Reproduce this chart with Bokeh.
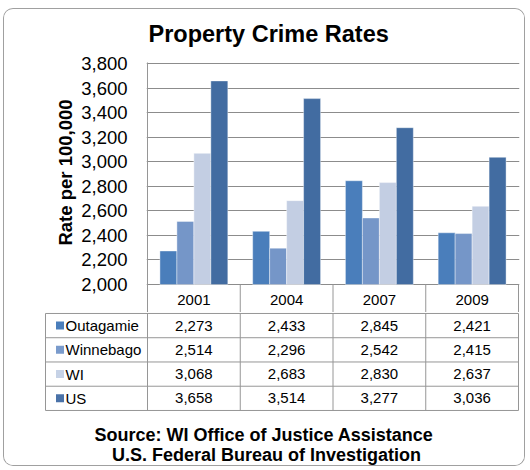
from bokeh.plotting import figure
from bokeh.models import Range1d, FixedTicker, NumeralTickFormatter, Title
from bokeh.embed import file_html
from bokeh.resources import INLINE
from bokeh.core.properties import value

# ---------------- data ----------------
years = ["2001", "2004", "2007", "2009"]
series_names = ["Outagamie", "Winnebago", "WI", "US"]
outagamie = [2273, 2433, 2845, 2421]
winnebago = [2514, 2296, 2542, 2415]
wi = [3068, 2683, 2830, 2637]
us = [3658, 3514, 3277, 3036]
y_ticks = [2000, 2200, 2400, 2600, 2800, 3000, 3200, 3400, 3600, 3800]
title_text = "Property Crime Rates"
y_label = "Rate per 100,000"
source_lines = ["Source:  WI Office of Justice Assistance",
                "U.S. Federal Bureau of Investigation"]

# ---------------- styles ----------------
FONT = "Liberation Sans"
bar_colors = ["#4a7ebb", "#7596c8", "#c3cee3", "#426ca1"]
key_colors = ["#4a7ebb", "#7a9bcc", "#c6d2e6", "#4a72a8"]
LINE = "#969696"
GRID = "#8c8c8c"
BOX = "1px solid #a0a0a0"

series = [outagamie, winnebago, wi, us]
n_cat = len(years)
bar_w = 0.183
offsets = [-1.5 * bar_w, -0.5 * bar_w, 0.5 * bar_w, 1.5 * bar_w]
PX = 92.75          # pixels per category
X0 = 147            # page x of category axis start
CW = 522            # canvas width
VPX = 1800 / 221    # value units per pixel
Y_BASE = 284        # page y of the 2,000 line

# ---------------- top: chart ----------------
top = figure(width=CW, height=304,
             x_range=Range1d(-1 / PX, n_cat + 1 / PX),
             y_range=Range1d(2000 - (313 - Y_BASE) * VPX, 2000 + (Y_BASE - 9) * VPX),
             output_backend="svg", toolbar_location=None,
             x_axis_location=None,
             min_border_left=142, min_border_right=7,
             min_border_top=0, min_border_bottom=0,
             margin=(8, 0, 0, 3),
             outline_line_color=None, background_fill_color="white",
             border_fill_color="white",
             styles={"border-top": BOX, "border-left": BOX, "border-right": BOX,
                     "border-radius": "10px 10px 0 0", "overflow": "hidden"})

yax = top.yaxis[0]
yax.ticker = FixedTicker(ticks=y_ticks)
yax.formatter = NumeralTickFormatter(format="0,0")
yax.axis_line_color = None
yax.major_tick_line_color = None
yax.minor_tick_line_color = None
yax.major_tick_out = 0
yax.major_tick_in = 0
yax.major_label_standoff = 19
yax.major_label_text_font = FONT
yax.major_label_text_font_size = "18.5px"
yax.major_label_text_color = "black"

# value-axis title, placed along the 2,000-3,800 span
top.add_layout(Title(text=y_label, align="right", offset=90, standoff=6,
                     text_font=FONT, text_font_size="18.5px",
                     text_font_style="bold", text_color="black"), "left")

top.xgrid.visible = False
top.ygrid.ticker = FixedTicker(ticks=y_ticks)
top.ygrid.grid_line_color = GRID
top.ygrid.grid_line_width = 1

# chart title
top.text(x=[(148 - X0) / PX], y=[2000 + (Y_BASE - 33) * VPX], text=[title_text],
         text_align="left", text_baseline="middle",
         text_font=value(FONT), text_font_size="23.5px",
         text_font_style="bold", text_color="black")

for s, vals in enumerate(series):
    xs = [i + 0.5 + offsets[s] for i in range(n_cat)]
    top.vbar(x=xs, top=vals, bottom=y_ticks[0], width=bar_w,
             fill_color=bar_colors[s], line_color="white", line_alpha=0.5,
             line_width=0.8)

# header row of the table (inside the top figure, below 2,000)
y_low = 2000 - (313 - Y_BASE) * VPX
top.segment(x0=[0], y0=[y_low], x1=[0], y1=[y_ticks[-1] + VPX],
            line_color=LINE, line_width=1)
top.segment(x0=list(range(1, n_cat + 1)), y0=[y_low] * n_cat,
            x1=list(range(1, n_cat + 1)), y1=[y_ticks[0]] * n_cat,
            line_color=LINE, line_width=1)
top.text(x=[i + 0.5 for i in range(n_cat)], y=[2000 - 15 * VPX] * n_cat, text=years,
         text_align="center", text_baseline="middle",
         text_font=value(FONT), text_font_size="15px", text_color="black")

# ---------------- bottom: data table + source ----------------
ROW = 24.25
Y0 = 313    # page y of the bottom figure's top
bot = figure(width=CW, height=154,
             x_range=Range1d((4 - X0) / PX, (4 + CW - X0) / PX),
             y_range=Range1d(154 / ROW - 0.04, -0.04),
             output_backend="svg", toolbar_location=None,
             x_axis_location=None, y_axis_location=None,
             min_border=0, outline_line_color=None,
             margin=(0, 0, 0, 3),
             background_fill_color="white", border_fill_color="white",
             styles={"border-bottom": BOX, "border-left": BOX, "border-right": BOX,
                     "border-radius": "0 0 10px 10px", "overflow": "hidden"})
bot.xgrid.visible = False
bot.ygrid.visible = False

left_edge = (45 - X0) / PX
n_rows = len(series_names)
# horizontal lines
bot.segment(x0=[left_edge] * (n_rows + 1), y0=list(range(n_rows + 1)),
            x1=[n_cat] * (n_rows + 1), y1=list(range(n_rows + 1)),
            line_color=LINE, line_width=1)
# vertical lines
vx = [left_edge] + list(range(n_cat + 1))
bot.segment(x0=vx, y0=[0] * len(vx), x1=vx, y1=[n_rows] * len(vx),
            line_color=LINE, line_width=1)

row_y = [r + 0.5 for r in range(n_rows)]
bot.scatter(x=[(59.5 - X0) / PX] * n_rows, y=row_y, marker="square", size=8,
            fill_color=key_colors, line_color=None)
bot.text(x=[(65 - X0) / PX] * n_rows, y=row_y, text=series_names,
         text_align="left", text_baseline="middle",
         text_font=value(FONT), text_font_size="15px", text_color="black")

for r, vals in enumerate(series):
    bot.text(x=[i + 0.5 for i in range(n_cat)], y=[r + 0.5] * n_cat,
             text=[f"{v:,}" for v in vals],
             text_align="center", text_baseline="middle",
             text_font=value(FONT), text_font_size="15px", text_color="black")

src_x = (266 - X0) / PX
bot.text(x=[src_x, src_x], y=[(435 - Y0) / ROW, (455 - Y0) / ROW],
         text=source_lines, text_align="center", text_baseline="middle",
         text_font=value(FONT), text_font_size="18px", text_font_style="bold",
         text_color="black")

open("out.html", "w").write(file_html([top, bot], INLINE))
